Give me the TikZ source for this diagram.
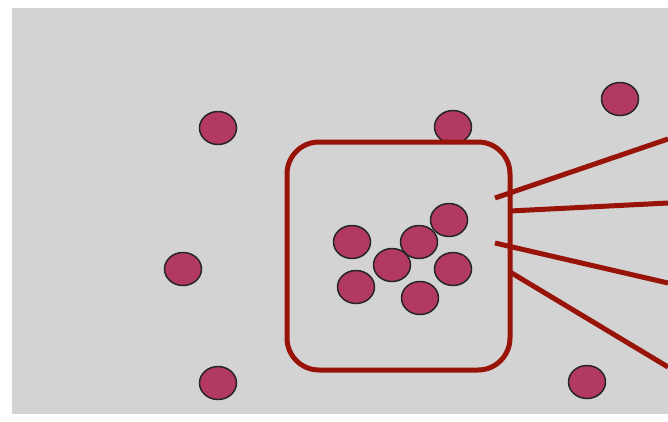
\documentclass[tikz,border=0pt]{standalone}
\usepackage{tikz}
\usetikzlibrary{positioning}
\usetikzlibrary{shapes.geometric}
\definecolor{bggrey}{RGB}{211,211,211}
\definecolor{boxred}{RGB}{152,20,8}
\definecolor{dotred}{RGB}{178,58,98}
\tikzset{
	dot/.style={ellipse,draw=black!85,line width=1.5pt,fill=dotred,minimum width=37,minimum height=33,inner sep=0pt},
	redline/.style={draw=boxred,line width=5}
}
\begin{document}
\begin{tikzpicture}[x=1pt,y=-1pt]
		\useasboundingbox (0,0) rectangle (668,421);
		\fill[bggrey] (12,8) rectangle (668,414);
		% outer dots
		\node[dot] (o1) at (218,128) {};
		\node[dot] (o2) at (453,127) {};
		\node[dot] (o3) at (620,99) {};
		\node[dot] (o4) at (183,269) {};
		\node[dot] (o5) at (218,383) {};
		\node[dot] (o6) at (587,382) {};
		% the box
		\draw[redline,rounded corners=32] (287,142) rectangle (510,370);
		% inner dots
		\node[dot] (i1) at (352,242) {};
		\node[dot] (i2) at (356,287) {};
		\node[dot] (i3) at (392,265) {};
		\node[dot] (i4) at (420,298) {};
		\node[dot] (i5) at (419,242) {};
		\node[dot] (i6) at (453,269) {};
		\node[dot] (i7) at (449,220) {};
		% lines
		\coordinate (a1) at (495,198);
		\coordinate (b1) at (668,139);
		\coordinate (a2) at (510,211);
		\coordinate (b2) at (668,203);
		\coordinate (a3) at (495,243);
		\coordinate (b3) at (668,283);
		\coordinate (a4) at (510,272);
		\coordinate (b4) at (668,367);
		\draw[redline] (a1) -- (b1);
		\draw[redline] (a2) -- (b2);
		\draw[redline] (a3) -- (b3);
		\draw[redline] (a4) -- (b4);
	\end{tikzpicture}
\end{document}
